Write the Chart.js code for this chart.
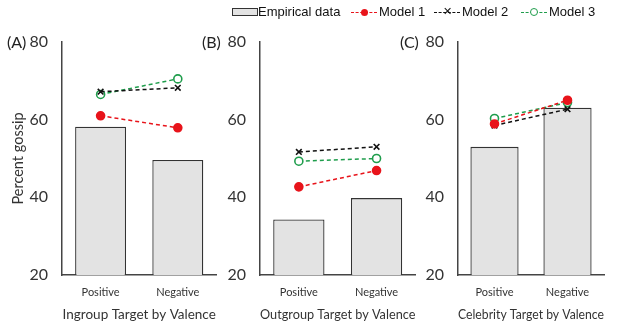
<!DOCTYPE html>
<html>
<head>
<meta charset="utf-8">
<script src="https://cdn.jsdelivr.net/npm/chart.js@4.4.1/dist/chart.umd.min.js"></script>
<style>
  body { margin: 0; background: #fff; }
  #wrap { position: relative; width: 621px; height: 327px; overflow: hidden; background: #fff; }
  #wrap canvas { position: absolute; top: 0; }
  .panel { position: absolute; font: 16px Lato, sans-serif; color: #222; }
  #legend { position: absolute; top: 3px; left: 232px; height: 18px; font: 13px "Liberation Sans", Arial, sans-serif; color: #111; white-space: nowrap; }
  #legend .item { position: absolute; top: 0; line-height: 18px; }
  .box { position: absolute; top: 5px; width: 24px; height: 6px; background: #e3e3e3; border: 1px solid #333; }
  .dash { position: absolute; top: 9px; width: 26px; border-top: 1px dashed; }
  .mk { position: absolute; }
</style>
</head>
<body>
<div id="wrap">
  <canvas id="chartA"></canvas>
  <canvas id="chartB"></canvas>
  <canvas id="chartC"></canvas>
  <div class="panel" style="left:7px; top:32px;">(A)</div>
  <div class="panel" style="left:202px; top:32px;">(B)</div>
  <div class="panel" style="left:400px; top:32px;">(C)</div>
  <div id="legend"></div>
</div>
<script>
// DATA
const categories = ['Positive', 'Negative'];
const yTicks = [20, 40, 60, 80];
const seriesNames = ['Empirical data', 'Model 1', 'Model 2', 'Model 3'];

// panel A - ingroup
const empiricalA = [58.2, 49.6];
const model1A = [61.0, 57.9];
const model2A = [67.2, 68.2];
const model3A = [66.5, 70.5];

// panel B - outgroup
const empiricalB = [34.3, 39.8];
const model1B = [42.7, 46.9];
const model2B = [51.7, 53.0];
const model3B = [49.3, 50.0];

// panel C - celebrity
const empiricalC = [53.0, 63.1];
const model1C = [58.9, 65.0];
const model2C = [58.5, 62.7];
const model3C = [60.3, 64.4];

const titles = ['Ingroup Target by Valence', 'Outgroup Target by Valence', 'Celebrity Target by Valence'];

// COLOURS
const red = '#e8141b';
const black = '#111111';
const green = '#1f9d4c';
const barFill = '#e3e3e3';
const axisCol = '#444444';

// LEGEND (html)
const legend = document.getElementById('legend');
legend.innerHTML =
  '<span class="item" style="left:0"><span class="box" style="left:0"></span><span style="margin-left:26px">' + seriesNames[0] + '</span></span>' +
  '<span class="item" style="left:119px"><span class="dash" style="left:0;border-color:' + red + '"></span>' +
    '<span class="mk" style="left:10px;top:6px;width:7px;height:7px;border-radius:50%;background:' + red + '"></span>' +
    '<span style="margin-left:28px">' + seriesNames[1] + '</span></span>' +
  '<span class="item" style="left:202px"><span class="dash" style="left:0;border-color:' + black + '"></span>' +
    '<span class="mk" style="left:9px;top:-1px;font-size:11px;color:' + black + '">&#x2715;</span>' +
    '<span style="margin-left:28px">' + seriesNames[2] + '</span></span>' +
  '<span class="item" style="left:289px"><span class="dash" style="left:0;border-color:' + green + '"></span>' +
    '<span class="mk" style="left:9px;top:5px;width:6px;height:6px;border-radius:50%;background:#fff;border:1px solid ' + green + '"></span>' +
    '<span style="margin-left:28px">' + seriesNames[3] + '</span></span>';

function lineSet(label, data, color, style, fill) {
  return {
    type: 'line', label: label, data: data, order: 1,
    borderColor: color, borderWidth: 1.5, borderDash: [4, 3],
    pointStyle: style, pointRadius: style === 'crossRot' ? 4 : 4,
    pointBorderColor: color, pointBorderWidth: 1.6,
    pointBackgroundColor: fill, fill: false, tension: 0
  };
}

function makePanel(id, left, width, axisW, padRight, emp, m1, m2, m3, title, showY) {
  const cv = document.getElementById(id);
  cv.style.left = left + 'px';
  cv.width = width; cv.height = 327;
  return new Chart(cv.getContext('2d'), {
    data: {
      labels: categories,
      datasets: [
        { type: 'bar', label: seriesNames[0], data: emp, order: 5,
          backgroundColor: barFill, borderColor: '#333', borderWidth: 1.3, borderSkipped: false,
          categoryPercentage: 1, barPercentage: 0.66 },
        lineSet(seriesNames[1], m1, red, 'circle', red),
        lineSet(seriesNames[2], m2, black, 'crossRot', black),
        lineSet(seriesNames[3], m3, green, 'circle', '#fff')
      ]
    },
    options: {
      responsive: false, animation: false,
      layout: { padding: { top: 42, right: padRight, bottom: 0, left: 0 } },
      plugins: { legend: { display: false }, tooltip: { enabled: false } },
      scales: {
        x: {
          grid: { display: false, drawTicks: false },
          border: { display: true, color: axisCol, width: 1.5 },
          ticks: { color: '#333', padding: 11, font: { family: 'Lato', size: 11 } },
          title: { display: true, text: title, color: '#333', padding: { top: 0, bottom: 4 },
                   font: { family: 'Lato', size: 13.5 } },
          afterFit: s => { s.height = 52; }
        },
        y: {
          min: 20, max: 80,
          grid: { display: false, drawTicks: false },
          border: { display: true, color: axisCol, width: 1.5 },
          afterBuildTicks: s => { s.ticks = yTicks.map(v => ({ value: v })); },
          ticks: { color: '#333', padding: 14, font: { family: 'Lato', size: 16 } },
          title: { display: showY, text: 'Percent gossip', color: '#333', padding: { top: 10, bottom: 0 },
                   font: { family: 'Lato', size: 14.5 } },
          afterFit: s => { s.width = axisW; }
        }
      }
    }
  });
}

makePanel('chartA', 0, 222, 62, 2, empiricalA, model1A, model2A, model3A, titles[0], true);
makePanel('chartB', 200, 221, 60, 2, empiricalB, model1B, model2B, model3B, titles[1], false);
makePanel('chartC', 400, 221, 58, 17, empiricalC, model1C, model2C, model3C, titles[2], false);
</script>
</body>
</html>
